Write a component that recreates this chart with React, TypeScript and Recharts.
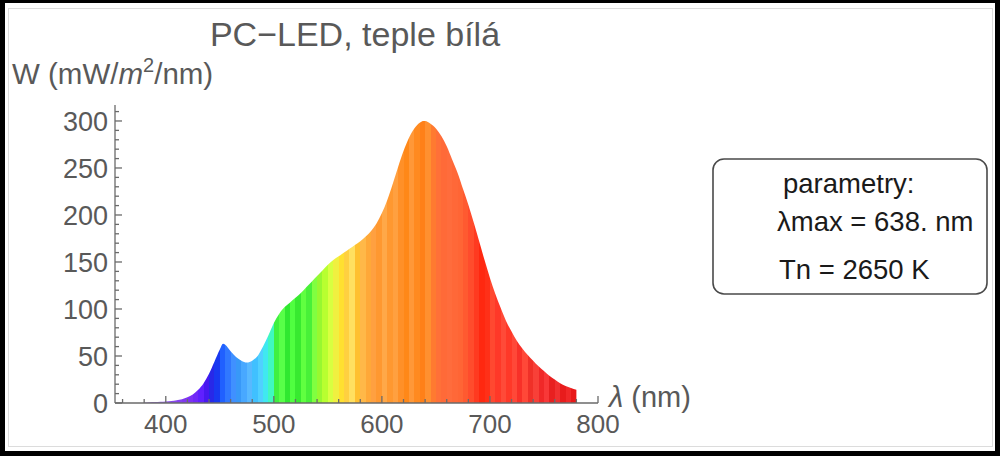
import React from 'react';
import { AreaChart, Area, XAxis, YAxis } from 'recharts';

// ---------- data ----------
const wavelengths = [
  380, 385, 390, 395, 400, 405, 410, 415, 420, 425, 430, 435, 440, 445, 450, 453,
  455, 460, 465, 470, 475, 480, 485, 490, 495, 500, 505, 510, 515, 520, 525, 530,
  535, 540, 545, 550, 555, 560, 565, 570, 575, 580, 585, 590, 595, 600, 605, 610,
  615, 620, 625, 630, 635, 638, 640, 645, 650, 655, 660, 665, 670, 675, 680, 685,
  690, 695, 700, 705, 710, 715, 720, 725, 730, 735, 740, 745, 750, 755, 760, 765,
  770, 775, 780,
];
const irradiance = [
  0.5, 0.8, 1, 1.3, 1.7, 2.2, 3, 4, 6, 9, 14, 21, 31, 44, 57, 63,
  62, 55, 49, 45, 43, 45, 50, 60, 72, 85, 95, 102, 107, 112, 117, 123,
  129, 135, 141, 147, 152, 156, 160, 164, 168, 172, 177, 183, 191, 202, 216, 233,
  251, 268, 282, 292, 298, 300, 300, 297, 292, 284, 273, 259, 245, 228, 211, 192,
  172, 152, 133, 116, 101, 87, 76, 66, 58, 51, 45, 39, 34, 29, 25, 21,
  18, 16, 14,
];
const xTicks = [360, 380, 400, 420, 440, 460, 480, 500, 520, 540, 560, 580, 600, 620, 640, 660, 680, 700, 720, 740, 760, 780, 800];
const xLabelTicks = [400, 500, 600, 700, 800];
const yTicks = [0, 10, 20, 30, 40, 50, 60, 70, 80, 90, 100, 110, 120, 130, 140, 150, 160, 170, 180, 190, 200, 210, 220, 230, 240, 250, 260, 270, 280, 290, 300, 310];
const yLabelTicks = [0, 50, 100, 150, 200, 250, 300];

// colour bands of the spectrum fill (start wavelength of each 5 nm band)
const bandStarts = [
  380, 385, 390, 395, 400, 405, 410, 415, 420, 425, 430, 435, 440, 445, 450, 455,
  460, 465, 470, 475, 480, 485, 490, 495, 500, 505, 510, 515, 520, 525, 530, 535,
  540, 545, 550, 555, 560, 565, 570, 575, 580, 585, 590, 595, 600, 605, 610, 615,
  620, 625, 630, 635, 640, 645, 650, 655, 660, 665, 670, 675, 680, 685, 690, 695,
  700, 705, 710, 715, 720, 725, 730, 735, 740, 745, 750, 755, 760, 765, 770, 775,
];
const bandColors = [
  '#a070e0', '#9a68e0', '#9560e0', '#9058e8', '#8c50e8', '#8848ea', '#8440ee', '#8038f0',
  '#7c30f4', '#7028f8', '#6020ff', '#4818f0', '#2828e8', '#1838f0', '#2060ff', '#3078ff',
  '#4090ff', '#3898f8', '#48a8ff', '#58b8ff', '#40c0ff', '#50d0ff', '#40e8f0', '#40f8c0',
  '#40f040', '#58ff48', '#30e830', '#50ff40', '#38ea30', '#60ff40', '#48f038', '#80ff40',
  '#98f830', '#b8ff30', '#d8ff40', '#f0f040', '#ffe030', '#ffd040', '#ffe060', '#ffc030',
  '#ffb848', '#ffa838', '#ffa040', '#ff9830', '#ffa848', '#ff9830', '#ffa040', '#ff9028',
  '#ff8818', '#ff9838', '#ff8a20', '#ff8018', '#ff9030', '#ff7a30', '#ff7038', '#ff6a38',
  '#ff6c3c', '#ff6838', '#ff6535', '#ff5a30', '#ff4c2c', '#ff3a20', '#ff2810', '#ff3018',
  '#ff4830', '#ff3828', '#ff4a38', '#ff3828', '#ff4838', '#f83028', '#ff4838', '#f03028',
  '#f84038', '#f02828', '#f83838', '#e82020', '#f03030', '#e81c1c', '#f02828', '#e81818',
];

const data = wavelengths.map((wl, i) => ({ wl, w: irradiance[i] }));

const FONT = '"Liberation Sans", Arial, sans-serif';
const AXIS = '#6a6a6a';
const TXT = '#595959';

const wlMin = wavelengths[0];
const wlSpan = wavelengths[wavelengths.length - 1] - wlMin;

const XTick = (props: any) => {
  const { x, y, payload } = props;
  const v = payload.value;
  const major = xLabelTicks.includes(v);
  return (
    <g>
      <line x1={x} x2={x} y1={y} y2={y - (major ? 7 : 4)} stroke={AXIS} strokeWidth={1.3} />
      {major && (
        <text x={x} y={y + 30} textAnchor="middle" fill={TXT} fontSize={26} fontFamily={FONT}>
          {v}
        </text>
      )}
    </g>
  );
};

const YTick = (props: any) => {
  const { x, y, payload } = props;
  const v = payload.value;
  const major = yLabelTicks.includes(v);
  return (
    <g>
      <line x1={x} x2={x + (major ? 7 : 4)} y1={y} y2={y} stroke={AXIS} strokeWidth={1.3} />
      {major && (
        <text x={x - 7} y={y + 10} textAnchor="end" fill={TXT} fontSize={27} fontFamily={FONT}>
          {v}
        </text>
      )}
    </g>
  );
};

export default function App() {
  return (
    <div style={{ position: 'absolute', left: 0, top: 0, width: 1000, height: 456, background: '#fff', overflow: 'hidden' }}>
      <div style={{ position: 'absolute', left: 0, top: 0 }}>
        <AreaChart width={1000} height={456} data={data} margin={{ top: 105, right: 402, bottom: 3, left: 55 }}>
          <defs>
            <linearGradient id="spec" x1="0" y1="0" x2="1" y2="0">
              {bandStarts.flatMap((s, i) => [
                <stop key={`a${i}`} offset={(s - wlMin) / wlSpan} stopColor={bandColors[i]} />,
                <stop key={`b${i}`} offset={Math.min(1, (s + 5 - wlMin) / wlSpan)} stopColor={bandColors[i]} />,
              ])}
            </linearGradient>
          </defs>
          <XAxis
            dataKey="wl"
            type="number"
            domain={[353, 800]}
            ticks={xTicks}
            interval={0}
            height={50}
            tickSize={0}
            tickMargin={0}
            tickLine={false}
            tick={<XTick />}
            axisLine={{ stroke: AXIS, strokeWidth: 1.3 }}
            allowDataOverflow
          />
          <YAxis
            type="number"
            domain={[0, 317]}
            ticks={yTicks}
            interval={0}
            width={60}
            tickSize={0}
            tickMargin={0}
            tickLine={false}
            tick={<YTick />}
            axisLine={{ stroke: AXIS, strokeWidth: 1.3 }}
            allowDataOverflow
          />
          <Area
            dataKey="w"
            type="monotone"
            fill="url(#spec)"
            fillOpacity={1}
            stroke="none"
            isAnimationActive={false}
            dot={false}
            activeDot={false}
          />
        </AreaChart>
      </div>
      <svg width={1000} height={456} style={{ position: 'absolute', left: 0, top: 0, pointerEvents: 'none' }}>
        {/* frame */}
        <rect x={8.5} y={8.5} width={984} height={438} fill="none" stroke="#dcdcdc" strokeWidth={1} />
        <rect x={0} y={0} width={5} height={456} fill="#000" />
        <rect x={0} y={0} width={1000} height={3} fill="#000" />
        <rect x={995} y={0} width={5} height={456} fill="#000" />
        <rect x={0} y={451} width={1000} height={5} fill="#000" />
        {/* title */}
        <text x={355} y={46} textAnchor="middle" fill={TXT} fontSize={34} fontFamily={FONT}>
          PC−LED, teple bílá
        </text>
        {/* y label */}
        <text x={12} y={84} fill={TXT} fontSize={29.5} fontFamily={FONT}>
          W (mW/<tspan fontStyle="italic">m</tspan>
          <tspan fontSize={20} dy={-12}>2</tspan>
          <tspan dy={12}>/nm)</tspan>
        </text>
        {/* x label */}
        <text x={609} y={407} fill={TXT} fontSize={29} fontFamily={FONT}>
          <tspan fontStyle="italic">λ</tspan> (nm)
        </text>
        {/* parameter box */}
        <rect x={713} y={159} width={274} height={135} rx={11} ry={11} fill="#fff" stroke="#4a4a4a" strokeWidth={1.6} />
        <text x={783} y={193} fill="#1a1a1a" fontSize={27.5} fontFamily={FONT}>parametry:</text>
        <text x={777} y={231} fill="#1a1a1a" fontSize={27.5} fontFamily={FONT}>λmax = 638. nm</text>
        <text x={779} y={279} fill="#1a1a1a" fontSize={27.5} fontFamily={FONT}>Tn = 2650 K</text>
      </svg>
    </div>
  );
}
